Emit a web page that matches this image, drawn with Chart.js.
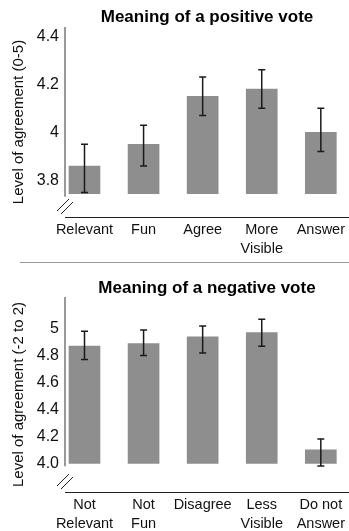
<!DOCTYPE html>
<html>
<head>
<meta charset="utf-8">
<script src="https://cdn.jsdelivr.net/npm/chart.js@4.4.1/dist/chart.umd.min.js"></script>
<style>
  html, body { margin: 0; padding: 0; background: #fff; }
  body { width: 349px; height: 531px; position: relative; overflow: hidden;
         font-family: "Liberation Sans", Arial, sans-serif; }
  .panel { position: absolute; left: 0; width: 349px; }
  .title { position: absolute; left: 65px; right: 0; text-align: center;
           font-weight: bold; font-size: 17px; line-height: 20px; color: #000; }
  .sep { position: absolute; left: 20px; width: 329px; top: 262px; border-top: 1.5px solid #999; }
</style>
</head>
<body>
<div class="panel" style="top:0;height:262px">
  <canvas id="posChart"></canvas>
</div>
<div class="title" style="top:7px">Meaning of a positive vote</div>
<div class="sep"></div>
<div class="panel" style="top:266px;height:265px">
  <canvas id="negChart"></canvas>
</div>
<div class="title" style="top:278px">Meaning of a negative vote</div>

<script>
'use strict';

// ── Data: positive vote ───────────────────────────────────────────────────────
const posCategories = ['Relevant', 'Fun', 'Agree', ['More', 'Visible'], 'Answer'];
const posMeans      = [3.86, 3.95, 4.15, 4.18, 4.00];
const posErrLow     = [3.75, 3.86, 4.07, 4.10, 3.92];
const posErrHigh    = [3.95, 4.03, 4.23, 4.26, 4.10];
const posTicks      = [3.8, 4.0, 4.2, 4.4];
const posTickLabels = ['3.8', '4', '4.2', '4.4'];

// ── Data: negative vote ───────────────────────────────────────────────────────
const negCategories = [['Not', 'Relevant'], ['Not', 'Fun'], 'Disagree', ['Less', 'Visible'], ['Do not', 'Answer']];
const negMeans      = [4.87, 4.89, 4.94, 4.97, 4.10];
const negErrLow     = [4.77, 4.80, 4.82, 4.87, 3.98];
const negErrHigh    = [4.98, 4.99, 5.02, 5.07, 4.18];
const negTicks      = [4.0, 4.2, 4.4, 4.6, 4.8, 5.0];
const negTickLabels = ['4.0', '4.2', '4.4', '4.6', '4.8', '5'];

const FONT = '"Liberation Sans", Arial, sans-serif';
const BAR_GREY = '#8e8e8e';

// ── Plugins ───────────────────────────────────────────────────────────────────
// error bars, placed through the chart's own scales
const errorBars = {
  id: 'errorBars',
  afterDatasetsDraw(chart, args, opts) {
    const { ctx, scales: { x, y } } = chart;
    ctx.save();
    ctx.strokeStyle = '#1a1a1a';
    ctx.lineWidth = 1.5;
    opts.low.forEach((lo, i) => {
      const px = x.getPixelForValue(i);
      const yLo = y.getPixelForValue(lo);
      const yHi = y.getPixelForValue(opts.high[i]);
      ctx.beginPath();
      ctx.moveTo(px, yLo); ctx.lineTo(px, yHi);
      ctx.moveTo(px - 3.5, yLo); ctx.lineTo(px + 3.5, yLo);
      ctx.moveTo(px - 3.5, yHi); ctx.lineTo(px + 3.5, yHi);
      ctx.stroke();
    });
    ctx.restore();
  }
};

// shortened y axis line plus the "//" break marks
const axisBreak = {
  id: 'axisBreak',
  afterDraw(chart, args, opts) {
    const { ctx, chartArea: a, scales: { y } } = chart;
    const yEnd = y.getPixelForValue(opts.base) + 3;
    ctx.save();
    ctx.strokeStyle = '#777';
    ctx.lineWidth = 1.5;
    ctx.beginPath();
    ctx.moveTo(a.left, a.top); ctx.lineTo(a.left, yEnd);
    ctx.stroke();
    ctx.strokeStyle = '#222';
    ctx.lineWidth = 1;
    ctx.beginPath();
    ctx.moveTo(a.left - 8, a.bottom - 6); ctx.lineTo(a.left + 4, a.bottom - 18);
    ctx.moveTo(a.left - 4, a.bottom - 3); ctx.lineTo(a.left + 8, a.bottom - 15);
    ctx.stroke();
    ctx.restore();
  }
};

// ── Chart builder ─────────────────────────────────────────────────────────────
function makeChart(canvasId, cfg) {
  return new Chart(document.getElementById(canvasId), {
    type: 'bar',
    data: {
      datasets: [{
        data: cfg.means.map((v, i) => ({ x: i, y: v })),
        backgroundColor: BAR_GREY,
        borderWidth: 0,
        barThickness: 31,
        base: cfg.base,
      }],
    },
    options: {
      responsive: true,
      maintainAspectRatio: false,
      animation: false,
      layout: { padding: { top: cfg.padTop, right: 0, bottom: 0, left: 0 } },
      plugins: {
        legend: { display: false },
        tooltip: { enabled: false },
        errorBars: { low: cfg.low, high: cfg.high },
        axisBreak: { base: cfg.base },
      },
      scales: {
        x: {
          type: 'linear',
          min: -0.33,
          max: 4.46,
          offset: false,
          grid: { display: false, drawTicks: false, offset: false },
          border: { display: true, color: '#222', width: 1 },
          afterBuildTicks: s => { s.ticks = cfg.categories.map((c, i) => ({ value: i })); },
          afterFit: s => { s.height = cfg.xHeight; },
          ticks: {
            autoSkip: false,
            maxRotation: 0,
            padding: 4,
            color: '#111',
            font: { family: FONT, size: 14.5, lineHeight: 1.3 },
            callback: v => cfg.categories[v],
          },
        },
        y: {
          min: cfg.yMin,
          max: cfg.yMax,
          grid: { display: false, drawTicks: false },
          border: { display: false },
          afterBuildTicks: s => { s.ticks = cfg.ticks.map(v => ({ value: v })); },
          afterFit: s => { s.width = 65; },
          ticks: {
            padding: 6,
            color: '#111',
            font: { family: FONT, size: 16 },
            callback: (v, i) => cfg.tickLabels[i],
          },
          title: {
            display: true,
            text: cfg.yTitle,
            color: '#111',
            padding: { top: 10, bottom: 0 },
            font: { family: FONT, size: 15 },
          },
        },
      },
    },
    plugins: [errorBars, axisBreak],
  });
}

makeChart('posChart', {
  categories: posCategories, means: posMeans, low: posErrLow, high: posErrHigh,
  ticks: posTicks, tickLabels: posTickLabels,
  yTitle: 'Level of agreement (0-5)',
  yMin: 3.648, yMax: 4.438, base: 3.745,
  padTop: 27, xHeight: 45,
});

makeChart('negChart', {
  categories: negCategories, means: negMeans, low: negErrLow, high: negErrHigh,
  ticks: negTicks, tickLabels: negTickLabels,
  yTitle: 'Level of agreement (-2 to 2)',
  yMin: 3.787, yMax: 5.235, base: 4.0,
  padTop: 31, xHeight: 39,
});
</script>
</body>
</html>
